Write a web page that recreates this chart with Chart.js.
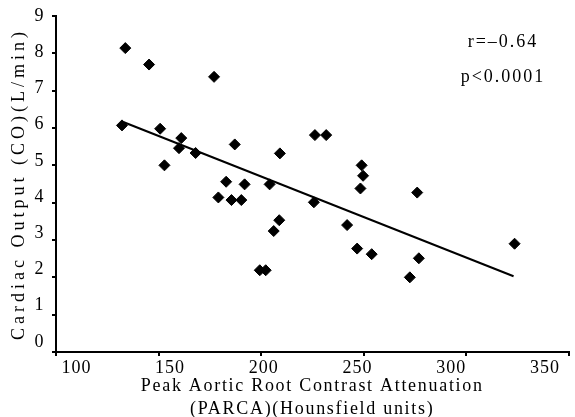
<!DOCTYPE html>
<html>
<head>
<meta charset="utf-8">
<script src="https://cdn.jsdelivr.net/npm/chart.js@4.4.1/dist/chart.umd.min.js"></script>
<style>
  html, body { margin: 0; padding: 0; background: #fff; }
  #wrap { width: 575px; height: 417px; }
</style>
</head>
<body>
<div id="wrap"><canvas id="grafica" width="575" height="417"></canvas></div>
<script>
// Datos
const parcaHU = [133.8, 145.4, 177.1, 132.2, 150.8, 161.1, 160.0, 168.1, 187.2, 152.9, 209.2, 183.0, 192.0, 204.2, 179.2, 185.6, 190.4,
  226.3, 231.8, 249.1, 249.8, 248.5, 276.2, 225.8, 199.4, 202.3, 206.2, 208.9, 242.0, 246.9, 254.0, 277.0, 272.6, 323.7];
const cardiacOutput = [8.14, 7.70, 7.37, 6.07, 5.98, 5.73, 5.46, 5.33, 5.56, 5.00, 5.32, 4.56, 4.49, 4.49, 4.14, 4.07, 4.07,
  5.81, 5.81, 5.00, 4.72, 4.38, 4.27, 4.01, 2.19, 2.19, 3.24, 3.53, 3.40, 2.77, 2.62, 2.51, 2.00, 2.90];

// recta de regresion (extremos)
const fitX = [132.8, 323.2];
const fitY = [6.16, 2.03];

const xTicks = [100, 150, 200, 250, 300, 350];
const yTicks = [0, 1, 2, 3, 4, 5, 6, 7, 8, 9];
const statsText = ["r=\u20130.64", "p<0.0001"];

const xTitle = ["Peak Aortic Root Contrast Attenuation", "(PARCA)(Hounsfield units)"];
const yTitle = "Cardiac Output (CO)(L/min)";

Chart.defaults.font.family = "'Liberation Serif', 'Times New Roman', serif";
Chart.defaults.font.size = 18;
Chart.defaults.color = "#000";

const puntos = parcaHU.map((x, i) => ({ x: x, y: cardiacOutput[i] }));
const recta = fitX.map((x, i) => ({ x: x, y: fitY[i] }));

const sinPadding = s => { s.paddingTop = 0; s.paddingBottom = 0; s.paddingLeft = 0; s.paddingRight = 0; };

// espaciado de letras, el original esta estirado
const espaciado = {
  id: "espaciado",
  beforeDraw(chart) {
    chart.ctx.letterSpacing = "1px";
    const y2 = chart.scales.y2, x2 = chart.scales.x2;
    if (!y2._parche) {
      const dy = y2.drawTitle;
      y2.drawTitle = function () { this.ctx.letterSpacing = "4px"; dy.call(this); this.ctx.letterSpacing = "1px"; };
      const dx = x2.drawTitle;
      x2.drawTitle = function () { this.ctx.letterSpacing = "1.7px"; dx.call(this); this.ctx.letterSpacing = "1px"; };
      y2._parche = true;
    }
  }
};

// texto r / p arriba a la derecha
const estadisticas = {
  id: "estadisticas",
  afterDraw(chart) {
    const ctx = chart.ctx;
    const px = chart.scales.x.getPixelForValue(315.6);
    const py = chart.scales.y.getPixelForValue(8.32);
    ctx.save();
    ctx.font = "18px 'Liberation Serif', serif";
    ctx.letterSpacing = "2px";
    ctx.fillStyle = "#000";
    ctx.textAlign = "center";
    ctx.textBaseline = "middle";
    statsText.forEach((t, i) => ctx.fillText(t, px + 5, py + 1 + i * 35));
    ctx.restore();
  }
};

new Chart(document.getElementById("grafica"), {
  type: "scatter",
  data: {
    datasets: [
      {
        label: "CO",
        data: puntos,
        pointStyle: "rectRot",
        pointRadius: 5.5,
        pointBackgroundColor: "#000",
        pointBorderColor: "#000",
        pointBorderWidth: 1,
        xAxisID: "x",
        yAxisID: "y"
      },
      {
        type: "line",
        label: "fit",
        data: recta,
        borderColor: "#000",
        borderWidth: 2,
        pointRadius: 0,
        fill: false,
        xAxisID: "x",
        yAxisID: "y"
      }
    ]
  },
  options: {
    responsive: false,
    animation: false,
    layout: { padding: { top: 16, right: 1, left: 0, bottom: 0 } },
    plugins: { legend: { display: false }, tooltip: { enabled: false } },
    scales: {
      x: {
        type: "linear",
        position: "bottom",
        min: 100,
        max: 350,
        afterBuildTicks: s => { s.ticks = xTicks.map(v => ({ value: v })); },
        ticks: { display: false },
        grid: { drawOnChartArea: false, drawTicks: true, tickLength: 4, color: "#000", lineWidth: 2 },
        border: { display: true, color: "#000", width: 2 },
        afterFit: s => { s.height = 4; sinPadding(s); }
      },
      x2: {
        type: "linear",
        position: "bottom",
        min: 89.1,
        max: 362.6,
        afterBuildTicks: s => { s.ticks = xTicks.map(v => ({ value: v })); },
        ticks: { padding: 1, autoSkip: false, maxRotation: 0, callback: v => String(v) },
        grid: { display: false, drawTicks: false },
        border: { display: false },
        title: {
          display: true,
          text: xTitle,
          font: { size: 18, lineHeight: 1.28 },
          padding: { top: 0, bottom: -3.5 }
        },
        afterFit: s => { s.height = 61; sinPadding(s); }
      },
      y: {
        type: "linear",
        position: "left",
        min: 0,
        max: 9,
        afterBuildTicks: s => { s.ticks = yTicks.map(v => ({ value: v })); },
        ticks: { display: false },
        grid: { drawOnChartArea: false, drawTicks: true, tickLength: 4, color: "#000", lineWidth: 2 },
        border: { display: true, color: "#000", width: 2 },
        afterFit: s => { s.width = 4; sinPadding(s); }
      },
      y2: {
        type: "linear",
        position: "left",
        min: -0.277,
        max: 9.0,
        afterBuildTicks: s => { s.ticks = yTicks.map(v => ({ value: v })); },
        ticks: { padding: 7.5, autoSkip: false, callback: v => String(v) },
        grid: { display: false, drawTicks: false },
        border: { display: false },
        title: {
          display: true,
          text: yTitle,
          font: { size: 18, lineHeight: 1.2 },
          padding: { top: 8.2, bottom: 0 }
        },
        afterFit: s => { s.width = 52; sinPadding(s); }
      }
    }
  },
  plugins: [espaciado, estadisticas]
});
</script>
</body>
</html>
